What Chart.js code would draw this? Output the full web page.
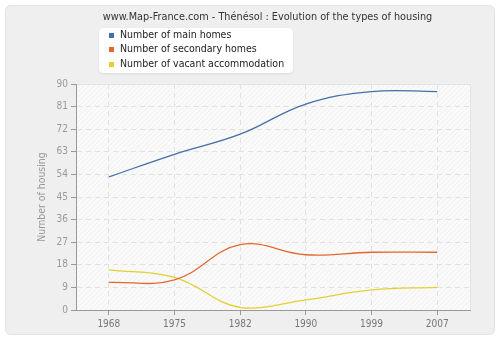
<!DOCTYPE html>
<html>
<head>
<meta charset="utf-8">
<script src="https://cdn.jsdelivr.net/npm/chart.js@4"></script>
<style>
  html, body { margin: 0; padding: 0; background: #ffffff; }
  #wrap { width: 500px; height: 340px; }
</style>
</head>
<body>
<div id="wrap"><canvas id="housing-chart" width="500" height="340"></canvas></div>
<script>
const years = ['1968', '1975', '1982', '1990', '1999', '2007'];
const mainHomes = [53, 62, 70, 82, 87, 87];
const secondaryHomes = [11, 12, 26, 22, 23, 23];
const vacantHomes = [16, 13, 1, 4, 8, 9];
const yTicks = [0, 9, 18, 27, 36, 45, 54, 63, 72, 81, 90];

const titleText = 'www.Map-France.com - Thénésol : Evolution of the types of housing';
const font = '"DejaVu Sans Condensed", "DejaVu Sans", sans-serif';

// diagonal hatch for the plot area
function makeHatch() {
	const c = document.createElement('canvas');
	c.width = 5; c.height = 5;
	const g = c.getContext('2d');
	g.fillStyle = '#fafafa';
	g.fillRect(0, 0, 5, 5);
	g.strokeStyle = '#f0f0f0';
	g.lineWidth = 1;
	g.beginPath();
	g.moveTo(0, 5); g.lineTo(5, 0);
	g.stroke();
	return g.createPattern(c, 'repeat');
}

function roundRect(ctx, x, y, w, h, r) {
	ctx.beginPath();
	ctx.moveTo(x + r, y);
	ctx.lineTo(x + w - r, y);
	ctx.quadraticCurveTo(x + w, y, x + w, y + r);
	ctx.lineTo(x + w, y + h - r);
	ctx.quadraticCurveTo(x + w, y + h, x + w - r, y + h);
	ctx.lineTo(x + r, y + h);
	ctx.quadraticCurveTo(x, y + h, x, y + h - r);
	ctx.lineTo(x, y + r);
	ctx.quadraticCurveTo(x, y, x + r, y);
	ctx.closePath();
}

const backdrop = {
	id: 'backdrop',
	beforeDraw(chart) {
		const ctx = chart.ctx;
		const a = chart.chartArea;
		ctx.save();
		ctx.fillStyle = '#ffffff';
		ctx.fillRect(0, 0, chart.width, chart.height);
		roundRect(ctx, 5.5, 5.5, 489, 329, 6);
		ctx.fillStyle = '#efefef';
		ctx.fill();
		ctx.strokeStyle = '#e2e2e2';
		ctx.stroke();
		ctx.fillStyle = makeHatch();
		ctx.fillRect(a.left, a.top, a.right - a.left, a.bottom - a.top);
		ctx.strokeStyle = '#e4e4e4';
		ctx.strokeRect(a.left + 0.5, a.top + 0.5, a.right - a.left, a.bottom - a.top);

		// title
		ctx.fillStyle = '#333333';
		ctx.font = '10.8px ' + font;
		ctx.textAlign = 'center';
		ctx.textBaseline = 'middle';
		ctx.fillText(titleText, 267.5, 17, 330);

		// y axis title
		ctx.save();
		ctx.translate(42, (a.top + a.bottom) / 2);
		ctx.rotate(-Math.PI / 2);
		ctx.fillStyle = '#999999';
		ctx.font = '10.4px ' + font;
		ctx.fillText('Number of housing', 0, 0);
		ctx.restore();
		ctx.restore();
	},
	afterDraw(chart) {
		const ctx = chart.ctx;
		ctx.save();
		ctx.shadowColor = 'rgba(0,0,0,0.08)';
		ctx.shadowBlur = 3;
		ctx.shadowOffsetY = 1;
		roundRect(ctx, 99, 28, 194, 45, 5);
		ctx.fillStyle = '#ffffff';
		ctx.fill();
		ctx.restore();
		ctx.save();
		ctx.font = '10.5px ' + font;
		ctx.textBaseline = 'middle';
		ctx.textAlign = 'left';
		const rows = [35.5, 49.5, 64.5];
		chart.data.datasets.forEach((ds, i) => {
			ctx.fillStyle = ds.borderColor;
			ctx.fillRect(109, rows[i] - 2.5, 5, 5);
			ctx.fillStyle = '#222222';
			ctx.fillText(ds.label, 120, rows[i]);
		});
		ctx.restore();
	}
};

const ctx = document.getElementById('housing-chart').getContext('2d');
new Chart(ctx, {
	type: 'line',
	data: {
		labels: years,
		datasets: [
			{ label: 'Number of main homes', data: mainHomes, borderColor: '#4470a5' },
			{ label: 'Number of secondary homes', data: secondaryHomes, borderColor: '#e5672f' },
			{ label: 'Number of vacant accommodation', data: vacantHomes, borderColor: '#e2d133' }
		]
	},
	options: {
		responsive: false,
		animation: false,
		devicePixelRatio: 1,
		layout: { padding: { top: 84, right: 30, bottom: 10, left: 0 } },
		elements: {
			line: { borderWidth: 1.3, tension: 0.4, fill: false },
			point: { radius: 0 }
		},
		plugins: {
			legend: { display: false },
			title: { display: false },
			tooltip: { enabled: false }
		},
		scales: {
			x: {
				offset: true,
				afterFit(scale) { scale.height = 20; },
				border: { color: '#999999', width: 1, dash: [5, 4] },
				grid: {
					color: '#e2e2e2',
					tickBorderDash: [],
					tickColor: '#999999',
					tickLength: 5,
					offset: false
				},
				ticks: { color: '#777777', font: { family: font, size: 10 }, padding: 3 }
			},
			y: {
				min: 0,
				max: 90,
				afterFit(scale) { scale.width = 76; },
				afterBuildTicks(scale) { scale.ticks = yTicks.map(v => ({ value: v })); },
				border: { color: '#999999', width: 1, dash: [5, 4] },
				grid: {
					color: '#e2e2e2',
					tickBorderDash: [],
					tickColor: '#999999',
					tickLength: 5
				},
				ticks: { color: '#999999', font: { family: font, size: 10 }, padding: 3 }
			}
		}
	},
	plugins: [backdrop]
});
</script>
</body>
</html>
